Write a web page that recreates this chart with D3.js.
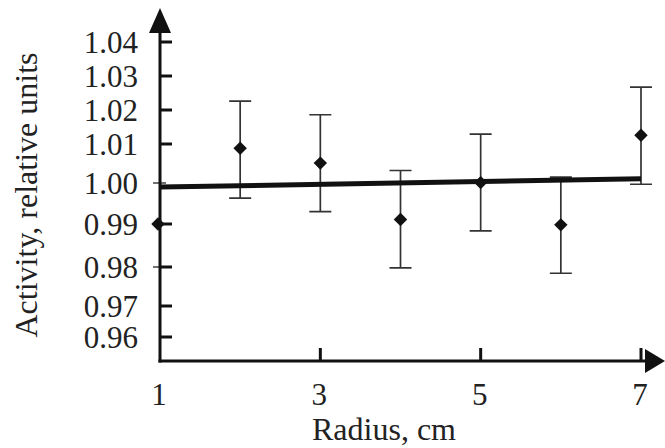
<!DOCTYPE html>
<html>
<head>
<meta charset="utf-8">
<script src="https://cdn.jsdelivr.net/npm/d3@7"></script>
<style>
  body { margin: 0; background: #fff; }
  text { font-family: "Liberation Serif", "Times New Roman", serif; fill: #222; }
</style>
</head>
<body>
<div id="myChart"></div>
<script>
// data
var radius = [1, 2, 3, 4, 5, 6, 7]
var activity = [0.990, 1.0089, 1.0051, 0.9911, 1.0001, 0.9898, 1.0126]
var upper = [null, 1.0226, 1.0186, 1.0032, 1.0129, 1.0015, 1.0267]
var lower = [null, 0.9963, 0.9930, 0.9798, 0.9884, 0.9784, 0.9997]
var trendX = [1, 7]
var trendY = [0.9990, 1.0011]
var yTicks = [0.96, 0.97, 0.98, 0.99, 1.00, 1.01, 1.02, 1.03, 1.04]
var xTicks = [1, 3, 5, 7]

var width = 665
    height = 448

var svg = d3.select("#myChart")
  .append("svg")
    .attr("width", width)
    .attr("height", height)

// x scale, 1..7
var x = d3.scaleLinear()
  .domain([1, 7])
  .range([160, 641])

// the original axis is hand drawn and unevenly spaced, so map tick by tick
var y = d3.scaleLinear()
  .domain(yTicks)
  .range([337, 306, 267, 224, 183, 144, 110, 76, 42])

var x0 = x(1)
var y0 = 361

// axes lines
svg.append("line")
  .attr("x1", x0).attr("x2", x0)
  .attr("y1", y0 + 1.5).attr("y2", 30)
  .attr("stroke", "#111").attr("stroke-width", 3)
svg.append("line")
  .attr("x1", x0 - 1.5).attr("x2", 648)
  .attr("y1", y0).attr("y2", y0)
  .attr("stroke", "#111").attr("stroke-width", 3)

// arrow heads
svg.append("path")
  .attr("d", "M" + x0 + ",8 L" + (x0 + 11) + ",33 L" + (x0 - 11) + ",33 Z")
  .attr("fill", "#111")
svg.append("path")
  .attr("d", "M665," + y0 + " L645," + (y0 - 12) + " L645," + (y0 + 12) + " Z")
  .attr("fill", "#111")

// y ticks
svg.selectAll(".ytick")
  .data(yTicks)
  .enter()
  .append("line")
    .attr("x1", function(d) { return d == 1.00 ? x0 - 7 : x0 })
    .attr("x2", function(d) { return d == 1.00 ? x0 + 6 : x0 + 12 })
    .attr("y1", function(d) { return y(d) })
    .attr("y2", function(d) { return y(d) })
    .attr("stroke", "#111")
    .attr("stroke-width", function(d) { return d == 1.00 ? 1.2 : 3 })

// thin stub left of 0.98, as in the original
svg.append("line")
  .attr("x1", x0 - 7).attr("x2", x0)
  .attr("y1", y(0.98)).attr("y2", y(0.98))
  .attr("stroke", "#111").attr("stroke-width", 1.2)

svg.selectAll(".ylab")
  .data(yTicks)
  .enter()
  .append("text")
    .attr("x", 138)
    .attr("y", function(d) { return y(d) })
    .attr("dy", "0.34em")
    .attr("text-anchor", "end")
    .style("font-size", "31px")
    .text(function(d) { return d3.format(".2f")(d) })

// x ticks
svg.selectAll(".xtick")
  .data(xTicks.slice(1))
  .enter()
  .append("line")
    .attr("x1", function(d) { return x(d) })
    .attr("x2", function(d) { return x(d) })
    .attr("y1", y0 - 13)
    .attr("y2", y0)
    .attr("stroke", "#111")
    .attr("stroke-width", 3)

svg.selectAll(".xlab")
  .data(xTicks)
  .enter()
  .append("text")
    .attr("x", function(d) { return x(d) - 1 })
    .attr("y", 405)
    .attr("text-anchor", "middle")
    .style("font-size", "31px")
    .text(function(d) { return d })

// axis titles
svg.append("text")
  .attr("x", 384)
  .attr("y", 440)
  .attr("text-anchor", "middle")
  .style("font-size", "32px")
  .text("Radius, cm")

svg.append("text")
  .attr("transform", "translate(37,195) rotate(-90)")
  .attr("text-anchor", "middle")
  .style("font-size", "32px")
  .text("Activity, relative units")

// error bars
var pts = radius.map(function(r, i) {
  return { r: r, v: activity[i], hi: upper[i], lo: lower[i] }
})
var bars = pts.filter(function(d) { return d.hi != null })

svg.selectAll(".err")
  .data(bars)
  .enter()
  .append("path")
    .attr("d", function(d) {
      var cx = x(d.r), t = y(d.hi), b = y(d.lo)
      return "M" + cx + "," + t + "V" + b +
             "M" + (cx - 11) + "," + t + "H" + (cx + 11) +
             "M" + (cx - 11) + "," + b + "H" + (cx + 11)
    })
    .attr("fill", "none")
    .attr("stroke", "#333")
    .attr("stroke-width", 1.7)

// trend line
svg.append("line")
  .attr("x1", x(trendX[0])).attr("y1", y(trendY[0]))
  .attr("x2", x(trendX[1])).attr("y2", y(trendY[1]))
  .attr("stroke", "#111")
  .attr("stroke-width", 5)

// diamonds
svg.selectAll(".pt")
  .data(pts)
  .enter()
  .append("path")
    .attr("d", d3.symbol().type(d3.symbolDiamond2).size(115))
    .attr("transform", function(d) { return "translate(" + (x(d.r) - (d.r == 1 ? 2 : 0)) + "," + y(d.v) + ")" })
    .attr("fill", "#111")
</script>
</body>
</html>
